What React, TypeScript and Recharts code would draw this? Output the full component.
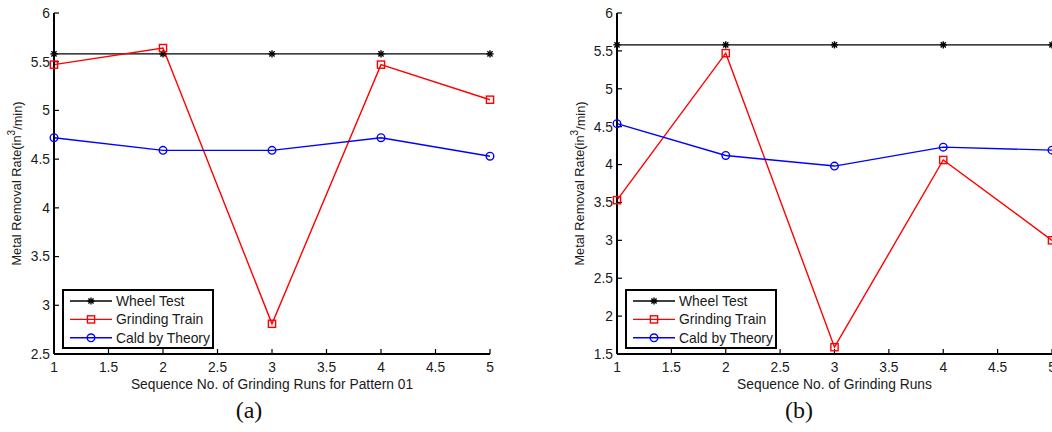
import React from 'react';
import { LineChart, Line, XAxis, YAxis, Legend } from 'recharts';

const runs = [1, 2, 3, 4, 5];
const wheelA = [5.58, 5.58, 5.58, 5.58, 5.58];
const grindA = [5.47, 5.64, 2.81, 5.47, 5.11];
const caldA = [4.72, 4.59, 4.59, 4.72, 4.53];
const wheelB = [5.58, 5.58, 5.58, 5.58, 5.58];
const grindB = [3.53, 5.47, 1.59, 4.06, 3.0];
const caldB = [4.54, 4.12, 3.98, 4.23, 4.19];
const xTicks = [1, 1.5, 2, 2.5, 3, 3.5, 4, 4.5, 5];
const yTicksA = [2.5, 3, 3.5, 4, 4.5, 5, 5.5, 6];
const yTicksB = [1.5, 2, 2.5, 3, 3.5, 4, 4.5, 5, 5.5, 6];
const seriesKeys = ['wheel', 'grind', 'cald'];
const seriesNames = ['Wheel Test', 'Grinding Train', 'Cald by Theory'];
const yLabelMain = 'Metal Removal Rate(in';
const yLabelSup = '3';
const yLabelEnd = '/min)';
const xLabelA = 'Sequence No. of Grinding Runs for Pattern 01';
const xLabelB = 'Sequence No. of Grinding Runs';

const FONT = 'Liberation Sans, Arial, sans-serif';
const TXT = '#1a1a1a';

const build = (w: number[], g: number[], c: number[]) =>
  runs.map((r, i) => ({ run: r, wheel: w[i], grind: g[i], cald: c[i] }));
const dataA = build(wheelA, grindA, caldA);
const dataB = build(wheelB, grindB, caldB);

const Star = ({ cx, cy, s = 3.6 }: any) => (
  <g stroke="#000" strokeWidth={1.4}>
    <line x1={cx - s} y1={cy} x2={cx + s} y2={cy} />
    <line x1={cx} y1={cy - s} x2={cx} y2={cy + s} />
    <line x1={cx - s * 0.72} y1={cy - s * 0.72} x2={cx + s * 0.72} y2={cy + s * 0.72} />
    <line x1={cx - s * 0.72} y1={cy + s * 0.72} x2={cx + s * 0.72} y2={cy - s * 0.72} />
  </g>
);
const Square = ({ cx, cy }: any) => (
  <rect x={cx - 3.6} y={cy - 3.6} width={7.2} height={7.2} fill="none" stroke="#ff0000" strokeWidth={1.4} />
);
const Circle = ({ cx, cy }: any) => (
  <circle cx={cx} cy={cy} r={3.8} fill="none" stroke="#0000ff" strokeWidth={1.4} />
);

const markerFor = (key: string, cx: number, cy: number) =>
  key === 'wheel' ? <Star cx={cx} cy={cy} /> : key === 'grind' ? <Square cx={cx} cy={cy} /> : <Circle cx={cx} cy={cy} />;

const LegendBox = (props: any) => {
  const payload = [...(props.payload || [])].sort(
    (a: any, b: any) => seriesKeys.indexOf(a.dataKey) - seriesKeys.indexOf(b.dataKey)
  );
  return (
    <svg width={152} height={60} style={{ display: 'block' }}>
      <rect x={1} y={1} width={150} height={58} fill="#fff" stroke="#000" strokeWidth={2} />
      {payload.map((p: any, i: number) => {
        const y = 12 + i * 18.4;
        return (
          <g key={i}>
            <line x1={8} y1={y} x2={50} y2={y} stroke={p.color} strokeWidth={1.4} />
            {markerFor(p.dataKey, 29, y)}
            <text x={54} y={y} dominantBaseline="central" fontFamily={FONT} fontSize={13.9} fill={TXT}>
              {p.value}
            </text>
          </g>
        );
      })}
    </svg>
  );
};

const YLabel = (props: any) => {
  const vb = props.viewBox || {};
  const cx = vb.x + 16.5;
  const cy = vb.y + vb.height / 2;
  return (
    <text
      x={cx}
      y={cy}
      transform={`rotate(-90, ${cx}, ${cy})`}
      textAnchor="middle"
      dominantBaseline="central"
      fontFamily={FONT}
      fontSize={12.8}
      fill={TXT}
    >
      {yLabelMain}
      <tspan dy={-6} fontSize={10}>{yLabelSup}</tspan>
      <tspan dy={6}>{yLabelEnd}</tspan>
    </text>
  );
};

const XLabel = (text: string) => (props: any) => {
  const vb = props.viewBox || {};
  return (
    <text
      x={vb.x + vb.width / 2}
      y={vb.y + 30}
      textAnchor="middle"
      dominantBaseline="central"
      fontFamily={FONT}
      fontSize={13.8}
      fill={TXT}
    >
      {text}
    </text>
  );
};

const axisLine = { stroke: '#000', strokeWidth: 2 };
const tickLine = { stroke: '#000', strokeWidth: 1.2 };
const tickStyle = { fontFamily: FONT, fontSize: 13.8, fill: TXT };

const Panel = ({ data, yTicks, yDomain, xLabel, width }: any) => (
  <LineChart width={width} height={432} data={data} margin={{ top: 13, right: 10, left: 0, bottom: 0 }}>
    <XAxis
      xAxisId="b"
      dataKey="run"
      type="number"
      domain={[1, 5]}
      ticks={xTicks}
      height={78}
      axisLine={axisLine}
      tickLine={tickLine}
      tickSize={-5}
      tickMargin={13}
      tick={tickStyle}
      interval={0}
      label={{ content: XLabel(xLabel) }}
    />
    <XAxis
      xAxisId="t"
      dataKey="run"
      type="number"
      orientation="top"
      domain={[1, 5]}
      ticks={xTicks}
      height={0}
      axisLine={axisLine}
      tickLine={tickLine}
      tickSize={-5}
      tick={false}
      interval={0}
    />
    <YAxis
      yAxisId="l"
      type="number"
      domain={yDomain}
      ticks={yTicks}
      width={54}
      axisLine={axisLine}
      tickLine={tickLine}
      tickSize={-5}
      tickMargin={9}
      tick={tickStyle}
      interval={0}
      label={{ content: YLabel }}
    />
    <YAxis
      yAxisId="r"
      type="number"
      orientation="right"
      domain={yDomain}
      ticks={yTicks}
      width={0}
      axisLine={axisLine}
      tickLine={tickLine}
      tickSize={-5}
      tick={false}
      interval={0}
    />
    <Legend
      layout="vertical"
      align="center"
      verticalAlign="middle"
      itemSorter={null as any}
      wrapperStyle={{ left: 62, top: 289, width: 152, height: 60 }}
      content={LegendBox}
    />
    <Line
      xAxisId="b"
      yAxisId="l"
      type="linear"
      dataKey="wheel"
      name={seriesNames[0]}
      stroke="#000000"
      strokeWidth={1.4}
      isAnimationActive={false}
      dot={(p: any) => <Star key={`w${p.index}`} cx={p.cx} cy={p.cy} />}
    />
    <Line
      xAxisId="b"
      yAxisId="l"
      type="linear"
      dataKey="grind"
      name={seriesNames[1]}
      stroke="#ff0000"
      strokeWidth={1.4}
      isAnimationActive={false}
      dot={(p: any) => <Square key={`g${p.index}`} cx={p.cx} cy={p.cy} />}
    />
    <Line
      xAxisId="b"
      yAxisId="l"
      type="linear"
      dataKey="cald"
      name={seriesNames[2]}
      stroke="#0000ff"
      strokeWidth={1.4}
      isAnimationActive={false}
      dot={(p: any) => <Circle key={`c${p.index}`} cx={p.cx} cy={p.cy} />}
    />
  </LineChart>
);

const Caption = ({ text, cx }: any) => (
  <div
    style={{
      position: 'absolute',
      left: cx - 30,
      width: 60,
      top: 396,
      textAlign: 'center',
      fontFamily: 'Liberation Serif, Times New Roman, serif',
      fontSize: 24,
      lineHeight: '28px',
      color: '#111',
    }}
  >
    {text}
  </div>
);

export default function App() {
  return (
    <div style={{ position: 'absolute', left: 0, top: 0, width: 1052, height: 432, overflow: 'hidden', background: '#fff' }}>
      <div style={{ position: 'absolute', left: 0, top: 0 }}>
        <Panel data={dataA} yTicks={yTicksA} yDomain={[2.5, 6]} xLabel={xLabelA} width={500} />
      </div>
      <div style={{ position: 'absolute', left: 563, top: 0 }}>
        <Panel data={dataB} yTicks={yTicksB} yDomain={[1.5, 6]} xLabel={xLabelB} width={499} />
      </div>
      <Caption text="(a)" cx={249} />
      <Caption text="(b)" cx={799} />
    </div>
  );
}
